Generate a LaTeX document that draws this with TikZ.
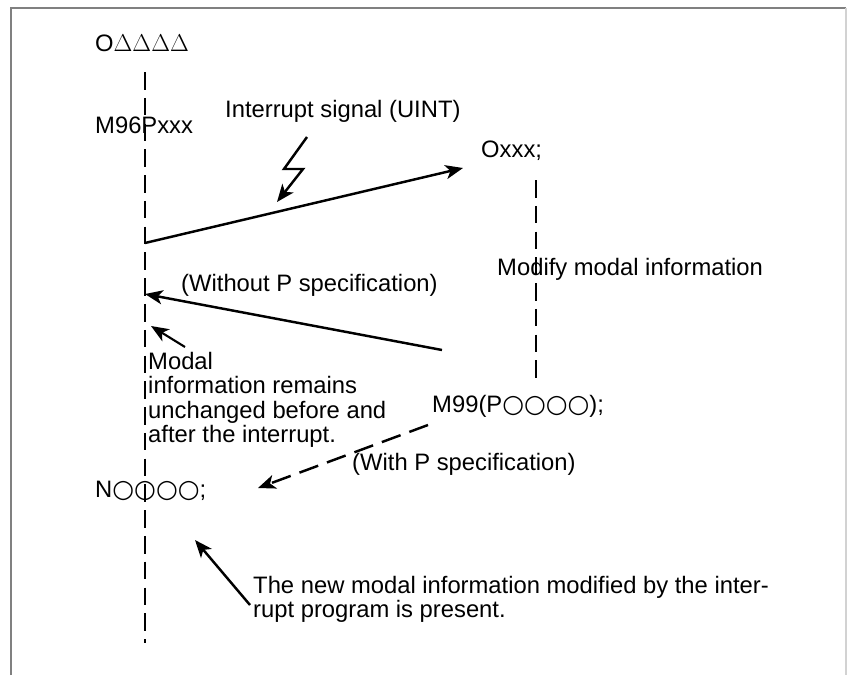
\documentclass[tikz,border=0pt]{standalone}
\usepackage{fontspec}
\setmainfont{Liberation Sans}
\newfontfamily\shapefont[Scale=1.05]{DejaVu Sans}
\usetikzlibrary{arrows.meta}

\newcommand{\ring}{{\shapefont ○}}
\newcommand{\rings}{\ring\ring\ring\ring}

\tikzset{
  txt/.style={inner sep=0pt, anchor=base west, font=\fontsize{20.3}{20.8}\selectfont},
  blk/.style={inner sep=0pt, anchor=north west, align=left, font=\fontsize{20.3}{20.8}\selectfont},
  timeline/.style={line width=2.3pt, dash pattern=on 15pt off 7pt},
  flow/.style={line width=2.1pt, -{Stealth[length=15pt,width=12pt,inset=4pt]}},
  jump/.style={flow, dash pattern=on 17pt off 8pt},
  frame/.style={line width=1.8pt, draw=gray}
}

\begin{document}
\begin{tikzpicture}[x=0.03cm, y=-0.03cm]
  \useasboundingbox (0,0) rectangle (850,675);
  \draw[frame] (11,675) -- (11,8) -- (846,8);
  \draw[frame, draw=gray!35] (846,8) -- (846,675);

  \node[txt] (prog)   at (95,52)   {O$\Delta\Delta\Delta\Delta$};
  \node[txt] (m96)    at (95,133)  {M96Pxxx};
  \node[txt] (signal) at (225,117) {Interrupt signal (UINT)};
  \node[txt] (oxxx)   at (481,157) {Oxxx;};
  \node[txt] (modify) at (497,275) {Modify modal information};
  \node[txt] (nop)    at (181,291) {(Without P specification)};
  \node[blk] (keep)   at (148,352) {Modal\\information remains\\unchanged before and\\after the interrupt.};
  \node[txt] (m99)    at (432,412) {M99(P\rings);};
  \node[txt] (withp)  at (352,470) {(With P specification)};
  \node[txt] (nseq)   at (95,497)  {N\rings;};
  \node[blk] (newinfo) at (253,576) {The new modal information modified by the inter-\\rupt program is present.};

  \coordinate (top)    at (145,72);
  \coordinate (bottom) at (145,643);
  \coordinate (call)   at (145,243);
  \coordinate (entry)  at (463,168);
  \coordinate (subtop) at (536,180);
  \coordinate (subbot) at (536,380);
  \coordinate (ret)    at (442,350);
  \coordinate (back)   at (145,294);
  \coordinate (kfrom)  at (185,347);
  \coordinate (kto)    at (151,326);
  \coordinate (jfrom)  at (428,425);
  \coordinate (jto)    at (258,488);
  \coordinate (nfrom)  at (250,605);
  \coordinate (nto)    at (195,540);

  \draw[timeline] (top) -- (bottom);
  \draw[timeline] (subtop) -- (subbot);
  \draw[flow] (call) -- (entry);
  \draw[flow] (307,137) -- (284,169) -- (303,169) -- (277,202);
  \draw[flow] (ret) -- (back);
  \draw[flow, line width=1.8pt] (kfrom) -- (kto);
  \draw[jump] (jfrom) -- (jto);
  \draw[flow] (nfrom) -- (nto);
\end{tikzpicture}
\end{document}
